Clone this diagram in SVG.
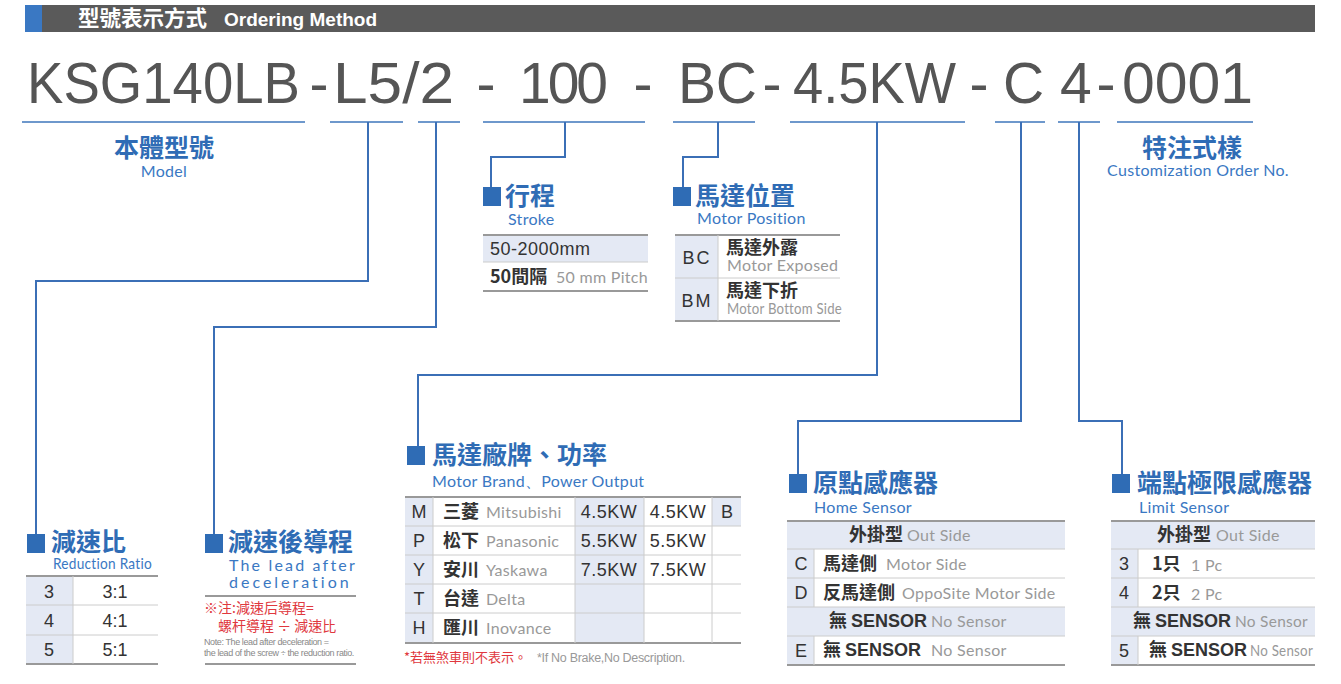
<svg xmlns="http://www.w3.org/2000/svg" width="1341" height="684" viewBox="0 0 1341 684">
<style>
.code{font-family:"Liberation Sans",Arial,sans-serif;font-size:57px;fill:#555}
.ttl{font-family:"Noto Sans CJK TC","Noto Sans CJK SC",sans-serif;font-size:25px;font-weight:700;fill:#2f6cb5}
.sub{font-family:"Lato","Open Sans",sans-serif;font-size:16px;letter-spacing:0.3px;fill:#3a78c3}
.mk{fill:#2f6cb5}
.conn path{fill:none;stroke:#3b6fb6;stroke-width:2}
.ul{stroke:#6e98cc;stroke-width:2}
.bg{fill:#e4e9f4}
.lt{stroke:#999;stroke-width:2}
.li{stroke:#ccc;stroke-width:1}
.lv{stroke:#ccc;stroke-width:1}
.cell{font-family:"Liberation Sans",Arial,sans-serif;font-size:18px;fill:#333}
.cj{font-family:"Noto Sans CJK TC","Noto Sans CJK SC",sans-serif;font-size:18px;font-weight:700;fill:#333}
.en{font-family:"Lato","Open Sans",sans-serif;font-size:16px;letter-spacing:0.3px;fill:#999}
.mid{text-anchor:middle}
</style>

<!-- header -->
<g id="header">
<rect x="25" y="5" width="17" height="27" fill="#3a78c3"/>
<rect x="42" y="5" width="1273" height="27" fill="#5a5a5a"/>
<text x="78" y="26" font-family="Noto Sans CJK TC,Noto Sans CJK SC,sans-serif" font-size="21.5" font-weight="700" fill="#fff">型號表示方式</text>
<text x="224" y="26" font-family="Liberation Sans,Arial,sans-serif" font-size="19" font-weight="700" fill="#fff">Ordering Method</text>
</g>

<!-- code line -->
<g id="code">
<text class="code" x="27" y="103" textLength="273" lengthAdjust="spacingAndGlyphs">KSG140LB</text>
<text class="code mid" x="319" y="103">-</text>
<text class="code" x="333" y="103" textLength="121" lengthAdjust="spacingAndGlyphs">L5/2</text>
<text class="code mid" x="486" y="103">-</text>
<text class="code" x="519" y="103" textLength="89">100</text>
<text class="code mid" x="643" y="103">-</text>
<text class="code" x="678" y="103" textLength="79">BC</text>
<text class="code mid" x="772" y="103">-</text>
<text class="code" x="793" y="103" textLength="163" lengthAdjust="spacingAndGlyphs">4.5KW</text>
<text class="code mid" x="979" y="103">-</text>
<text class="code" x="1003" y="103">C</text>
<text class="code" x="1060" y="103">4</text>
<text class="code mid" x="1106" y="103">-</text>
<text class="code" x="1122" y="103" textLength="131" lengthAdjust="spacingAndGlyphs">0001</text>
<line class="ul" x1="22" y1="122" x2="305" y2="122"/>
<line class="ul" x1="330" y1="122" x2="403" y2="122"/>
<line class="ul" x1="418" y1="122" x2="460" y2="122"/>
<line class="ul" x1="483" y1="122" x2="645" y2="122"/>
<line class="ul" x1="673" y1="122" x2="755" y2="122"/>
<line class="ul" x1="790" y1="122" x2="965" y2="122"/>
<line class="ul" x1="995" y1="122" x2="1045" y2="122"/>
<line class="ul" x1="1058" y1="122" x2="1100" y2="122"/>
<line class="ul" x1="1117" y1="122" x2="1253" y2="122"/>
</g>

<!-- connectors -->
<g class="conn" id="connectors">
<path d="M368 122 V281 H36 V536"/>
<path d="M436 122 V327 H214 V536"/>
<path d="M565 122 V157 H491 V190"/>
<path d="M718 122 V157 H683 V190"/>
<path d="M877 122 V375 H418 V449"/>
<path d="M1021 122 V421 H798 V476"/>
<path d="M1079 122 V421 H1122 V476"/>
</g>

<!-- model -->
<g id="model">
<text class="ttl mid" x="164" y="157">本體型號</text>
<text class="sub mid" x="164" y="177">Model</text>
</g>

<!-- custom -->
<g id="custom">
<text class="ttl mid" x="1192" y="157">特注式樣</text>
<text class="sub mid" x="1198" y="176">Customization Order No.</text>
</g>

<!-- stroke -->
<g id="stroke">
<rect class="mk" x="483" y="187" width="18" height="19"/>
<text class="ttl" x="505" y="205">行程</text>
<text class="sub" x="508" y="225">Stroke</text>
<rect class="bg" x="483" y="235" width="165" height="27"/>
<line class="lt" x1="483" y1="235" x2="648" y2="235"/>
<line class="li" x1="483" y1="262" x2="648" y2="262"/>
<line class="lt" x1="483" y1="291" x2="648" y2="291"/>
<text class="cell" x="490" y="255" font-size="17" letter-spacing="0.5">50-2000mm</text>
<text class="cj" x="490" y="283" font-size="17">50間隔</text>
<text class="en" x="556" y="283" font-size="15" letter-spacing="0.5">50 mm Pitch</text>
</g>

<!-- motor position -->
<g id="motor-position">
<rect class="mk" x="673" y="187" width="18" height="19"/>
<text class="ttl" x="695" y="205">馬達位置</text>
<text class="sub" x="697" y="224">Motor Position</text>
<rect class="bg" x="675" y="235" width="43" height="86"/>
<line class="lt" x1="675" y1="235" x2="840" y2="235"/>
<line class="li" x1="675" y1="278" x2="840" y2="278"/>
<line class="lt" x1="675" y1="321" x2="840" y2="321"/>
<line class="lv" x1="718" y1="235" x2="718" y2="321"/>
<text class="cell mid" x="697" y="264" letter-spacing="2">BC</text>
<text class="cell mid" x="697" y="307" letter-spacing="2">BM</text>
<text class="cj" x="726" y="254" font-size="17.5">馬達外露</text>
<text class="en" x="727" y="271" font-size="13.5" letter-spacing="0">Motor Exposed</text>
<text class="cj" x="726" y="297" font-size="17.5">馬達下折</text>
<text class="en" x="727" y="314" font-size="13.5" letter-spacing="0" textLength="115" lengthAdjust="spacingAndGlyphs" fill="#888">Motor Bottom Side</text>
</g>

<!-- reduction ratio -->
<g id="reduction-ratio">
<rect class="mk" x="27" y="534" width="18" height="19"/>
<text class="ttl" x="51" y="551">減速比</text>
<text class="sub" x="53" y="569" font-size="14" letter-spacing="0" textLength="99" lengthAdjust="spacingAndGlyphs">Reduction Ratio</text>
<rect class="bg" x="26" y="576" width="47" height="88"/>
<line class="lt" x1="26" y1="576" x2="158" y2="576"/>
<line class="li" x1="26" y1="605" x2="158" y2="605"/>
<line class="li" x1="26" y1="635" x2="158" y2="635"/>
<line class="lt" x1="26" y1="664" x2="158" y2="664"/>
<line class="lv" x1="73" y1="576" x2="73" y2="664"/>
<text class="cell mid" x="49" y="598">3</text>
<text class="cell mid" x="49" y="627">4</text>
<text class="cell mid" x="49" y="656">5</text>
<text class="cell mid" x="115" y="598">3:1</text>
<text class="cell mid" x="115" y="627">4:1</text>
<text class="cell mid" x="115" y="656">5:1</text>
</g>

<!-- lead after deceleration -->
<g id="lead">
<rect class="mk" x="205" y="534" width="18" height="19"/>
<text class="ttl" x="228" y="551">減速後導程</text>
<text class="sub" x="229" y="571" font-size="17" letter-spacing="0" textLength="126" lengthAdjust="spacing">The lead after</text>
<text class="sub" x="229" y="588" font-size="17" letter-spacing="0" textLength="120" lengthAdjust="spacing">deceleration</text>
<line class="lt" x1="205" y1="596" x2="356" y2="596"/>
<text x="204" y="613" font-family="Noto Sans CJK TC,Noto Sans CJK SC,sans-serif" font-size="14" fill="#e0383e">※注:減速后導程=</text>
<text x="218" y="631" font-family="Noto Sans CJK TC,Noto Sans CJK SC,sans-serif" font-size="14" fill="#e0383e">螺杆導程 ÷ 減速比</text>
<text x="204" y="645" font-family="Liberation Sans,Arial,sans-serif" font-size="9" fill="#888" letter-spacing="-0.4">Note: The lead after deceleration =</text>
<text x="204" y="656" font-family="Liberation Sans,Arial,sans-serif" font-size="9" fill="#888" letter-spacing="-0.4">the lead of the screw ÷ the reduction ratio.</text>
<line class="lt" x1="205" y1="664" x2="356" y2="664"/>
</g>

<!-- motor brand -->
<g id="motor-brand">
<rect class="mk" x="407" y="446" width="18" height="19"/>
<text class="ttl" x="432" y="464">馬達廠牌、功率</text>
<text class="sub" x="432" y="487">Motor Brand、Power Output</text>
<rect class="bg" x="405" y="497" width="28" height="146"/>
<rect class="bg" x="575" y="497" width="69" height="146"/>
<rect class="bg" x="712" y="497" width="29" height="29"/>
<line class="lt" x1="405" y1="497" x2="741" y2="497"/>
<line class="li" x1="405" y1="526" x2="741" y2="526"/>
<line class="li" x1="405" y1="555" x2="741" y2="555"/>
<line class="li" x1="405" y1="584" x2="741" y2="584"/>
<line class="li" x1="405" y1="613" x2="741" y2="613"/>
<line class="lt" x1="405" y1="643" x2="741" y2="643"/>
<line class="lv" x1="433" y1="497" x2="433" y2="643"/>
<line class="lv" x1="575" y1="497" x2="575" y2="643"/>
<line class="lv" x1="644" y1="497" x2="644" y2="643"/>
<line class="lv" x1="712" y1="497" x2="712" y2="643"/>
<text class="cell mid" x="419" y="518">M</text>
<text class="cell mid" x="419" y="547">P</text>
<text class="cell mid" x="419" y="576">Y</text>
<text class="cell mid" x="419" y="605">T</text>
<text class="cell mid" x="419" y="634">H</text>
<text class="cj" x="443" y="518" font-size="19">三菱</text>
<text class="en" x="486" y="518">Mitsubishi</text>
<text class="cj" x="443" y="547" font-size="19">松下</text>
<text class="en" x="486" y="547">Panasonic</text>
<text class="cj" x="443" y="576" font-size="19">安川</text>
<text class="en" x="486" y="576">Yaskawa</text>
<text class="cj" x="443" y="605" font-size="19">台達</text>
<text class="en" x="486" y="605">Delta</text>
<text class="cj" x="443" y="634" font-size="19">匯川</text>
<text class="en" x="486" y="634">Inovance</text>
<text class="cell mid" x="609" y="518" font-size="17.5" letter-spacing="0.5">4.5KW</text>
<text class="cell mid" x="609" y="547" font-size="17.5" letter-spacing="0.5">5.5KW</text>
<text class="cell mid" x="609" y="576" font-size="17.5" letter-spacing="0.5">7.5KW</text>
<text class="cell mid" x="678" y="518" font-size="17.5" letter-spacing="0.5">4.5KW</text>
<text class="cell mid" x="678" y="547" font-size="17.5" letter-spacing="0.5">5.5KW</text>
<text class="cell mid" x="678" y="576" font-size="17.5" letter-spacing="0.5">7.5KW</text>
<text class="cell mid" x="727" y="518">B</text>
<text x="404" y="662" font-family="Noto Sans CJK TC,Noto Sans CJK SC,sans-serif" font-size="13" fill="#e0383e">*若無煞車則不表示。</text>
<text x="537" y="662" font-family="Liberation Sans,Arial,sans-serif" font-size="12.5" fill="#999" letter-spacing="-0.3">*If No Brake,No Description.</text>
</g>

<!-- home sensor -->
<g id="home-sensor">
<rect class="mk" x="789" y="474" width="18" height="19"/>
<text class="ttl" x="813" y="492">原點感應器</text>
<text class="sub" x="814" y="513">Home Sensor</text>
<rect class="bg" x="787" y="521" width="278" height="28"/>
<rect class="bg" x="787" y="607" width="278" height="29"/>
<rect class="bg" x="787" y="549" width="27" height="58"/>
<rect class="bg" x="787" y="636" width="27" height="29"/>
<line class="lt" x1="787" y1="521" x2="1065" y2="521"/>
<line class="li" x1="787" y1="549" x2="1065" y2="549"/>
<line class="li" x1="787" y1="578" x2="1065" y2="578"/>
<line class="li" x1="787" y1="607" x2="1065" y2="607"/>
<line class="li" x1="787" y1="636" x2="1065" y2="636"/>
<line class="lt" x1="787" y1="665" x2="1065" y2="665"/>
<line class="lv" x1="814" y1="549" x2="814" y2="607"/>
<line class="lv" x1="814" y1="636" x2="814" y2="665"/>
<text class="cj" x="849" y="541">外掛型</text>
<text class="en" x="907" y="541">Out Side</text>
<text class="cell mid" x="801" y="570">C</text>
<text class="cj" x="823" y="570">馬達側</text>
<text class="en" x="886" y="570">Motor Side</text>
<text class="cell mid" x="801" y="599">D</text>
<text class="cj" x="823" y="599">反馬達側</text>
<text class="en" x="902" y="599">OppoSite Motor Side</text>
<text class="cj" x="829" y="627">無 <tspan font-family="Liberation Sans,Arial,sans-serif">SENSOR</tspan></text>
<text class="en" x="931" y="627">No Sensor</text>
<text class="cell mid" x="801" y="657">E</text>
<text class="cj" x="823" y="656">無  <tspan font-family="Liberation Sans,Arial,sans-serif">SENSOR</tspan></text>
<text class="en" x="931" y="656">No Sensor</text>
</g>

<!-- limit sensor -->
<g id="limit-sensor">
<rect class="mk" x="1112" y="474" width="18" height="19"/>
<text class="ttl" x="1137" y="492">端點極限感應器</text>
<text class="sub" x="1139" y="513">Limit Sensor</text>
<rect class="bg" x="1111" y="521" width="204" height="28"/>
<rect class="bg" x="1111" y="607" width="204" height="29"/>
<rect class="bg" x="1111" y="549" width="27" height="58"/>
<rect class="bg" x="1111" y="636" width="27" height="29"/>
<line class="lt" x1="1111" y1="521" x2="1315" y2="521"/>
<line class="li" x1="1111" y1="549" x2="1315" y2="549"/>
<line class="li" x1="1111" y1="578" x2="1315" y2="578"/>
<line class="li" x1="1111" y1="607" x2="1315" y2="607"/>
<line class="li" x1="1111" y1="636" x2="1315" y2="636"/>
<line class="lt" x1="1111" y1="665" x2="1315" y2="665"/>
<line class="lv" x1="1138" y1="549" x2="1138" y2="607"/>
<line class="lv" x1="1138" y1="636" x2="1138" y2="665"/>
<text class="cj" x="1157" y="541">外掛型</text>
<text class="en" x="1216" y="541">Out Side</text>
<text class="cell mid" x="1124" y="570">3</text>
<text class="cj" x="1152" y="570">1只</text>
<text class="en" x="1191" y="571" font-size="13.5">1 Pc</text>
<text class="cell mid" x="1124" y="599">4</text>
<text class="cj" x="1152" y="599">2只</text>
<text class="en" x="1191" y="600" font-size="13.5">2 Pc</text>
<text class="cj" x="1133" y="627">無 <tspan font-family="Liberation Sans,Arial,sans-serif">SENSOR</tspan></text>
<text class="en" x="1235" y="627" textLength="73" lengthAdjust="spacingAndGlyphs">No Sensor</text>
<text class="cell mid" x="1124" y="657">5</text>
<text class="cj" x="1149" y="656">無 <tspan font-family="Liberation Sans,Arial,sans-serif">SENSOR</tspan></text>
<text class="en" x="1250" y="656" textLength="63" lengthAdjust="spacingAndGlyphs">No Sensor</text>
</g>
</svg>
